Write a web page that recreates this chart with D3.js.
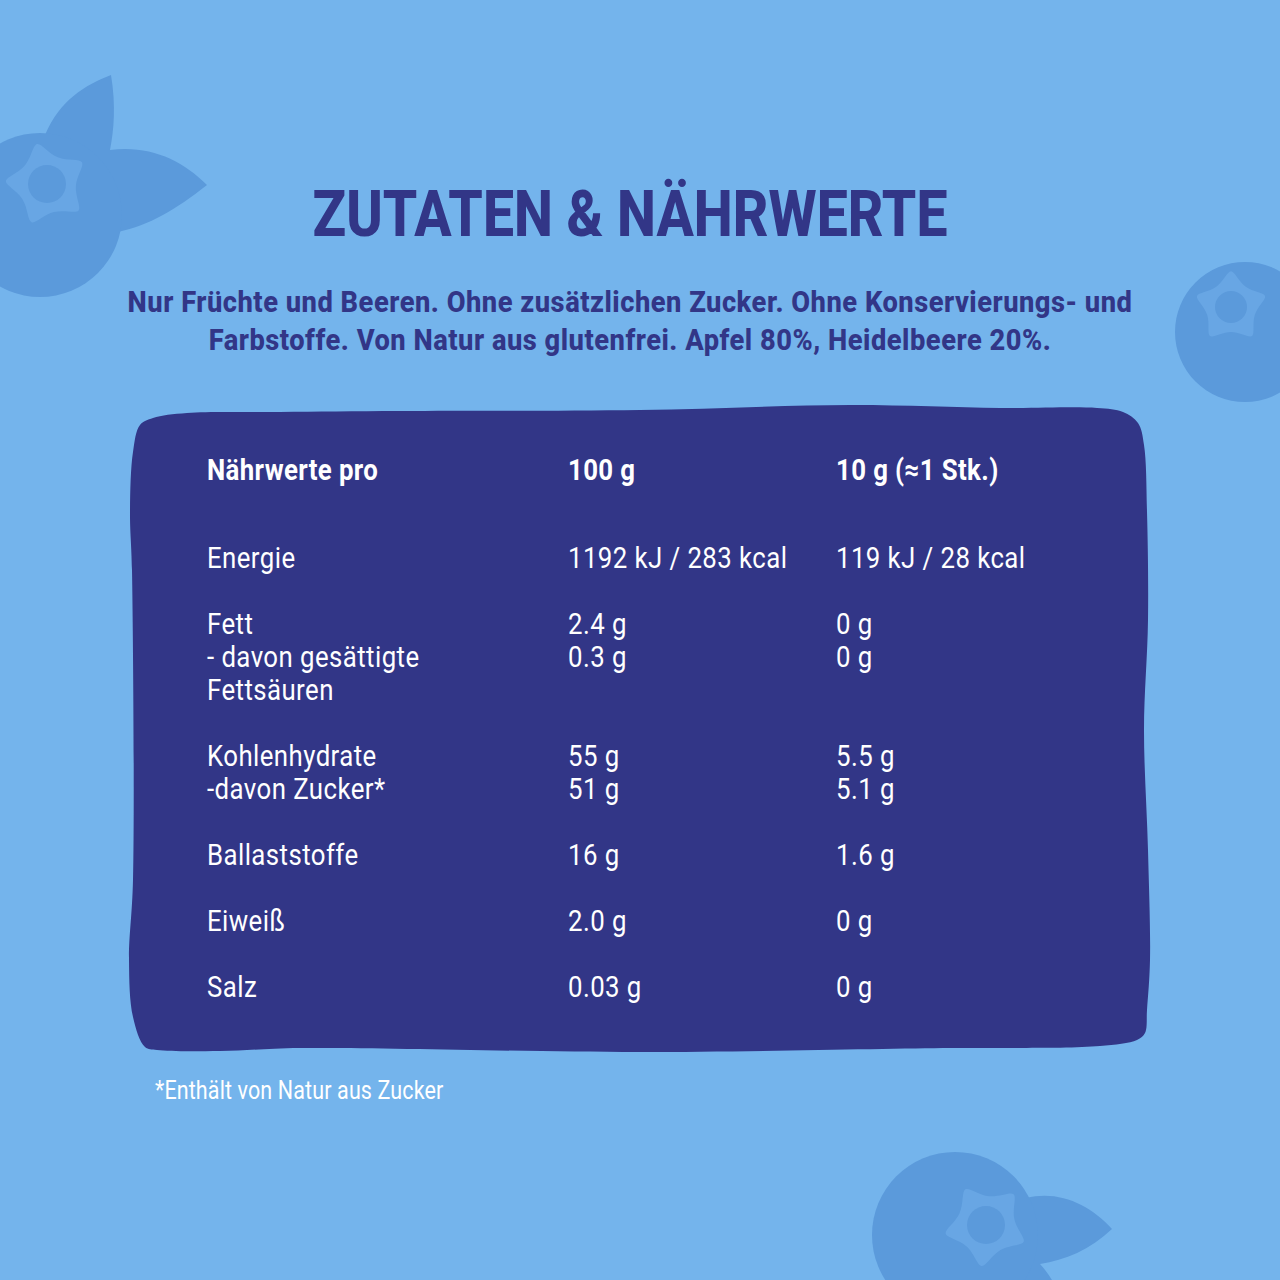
<!DOCTYPE html>
<html>
<head>
<meta charset="utf-8">
<script src="https://cdn.jsdelivr.net/npm/d3@7"></script>
<style>
  html, body { margin: 0; padding: 0; background: #74b4ec; }
  svg { display: block; }
  text { font-family: Roboto, sans-serif; }
</style>
</head>
<body>
<svg id="chart" width="1280" height="1280"></svg>
<script>
const title = "ZUTATEN & NÄHRWERTE";
const introLines = [
  "Nur Früchte und Beeren. Ohne zusätzlichen Zucker. Ohne Konservierungs- und",
  "Farbstoffe. Von Natur aus glutenfrei. Apfel 80%, Heidelbeere 20%."
];
const columnHeads = ["Nährwerte pro", "100 g", "10 g (≈1 Stk.)"];
const nutrients = ["Energie", "Fett", "- davon gesättigte", "Fettsäuren", "Kohlenhydrate", "-davon Zucker*", "Ballaststoffe", "Eiweiß", "Salz"];
const per100g = ["1192 kJ / 283 kcal", "2.4 g", "0.3 g", "", "55 g", "51 g", "16 g", "2.0 g", "0.03 g"];
const per10g = ["119 kJ / 28 kcal", "0 g", "0 g", "", "5.5 g", "5.1 g", "1.6 g", "0 g", "0 g"];
const lineSlots = [0, 2, 3, 4, 6, 7, 9, 11, 13];
const footnote = "*Enthält von Natur aus Zucker";

const colors = { bg: "#74b4ec", panel: "#323687", berry: "#5b9adb", star: "#68a6e4" };

const svg = d3.select("#chart");
svg.append("rect").attr("width", 1280).attr("height", 1280).attr("fill", colors.bg);

// berries in the background
function star(cx, cy, outer, inner, rot) {
  const pts = d3.range(10).map(i => [(i * Math.PI / 5) + rot * Math.PI / 180, i % 2 ? inner : outer]);
  const g = svg.append("g").attr("transform", `translate(${cx},${cy})`);
  g.append("path")
    .attr("d", d3.lineRadial().curve(d3.curveBasisClosed)(pts))
    .attr("fill", colors.star);
  return g;
}

function berry(cx, cy, r) {
  svg.append("circle").attr("cx", cx).attr("cy", cy).attr("r", r).attr("fill", colors.berry);
}

const leaves = [
  "M45,135 C60,100 85,85 111,75 C116,105 114,130 110,150 C150,145 182,160 207,185 C175,210 150,225 118,232 L80,170 Z",
  "M1026,1198 C1060,1190 1090,1205 1112,1229 C1090,1250 1065,1260 1040,1264 C1050,1275 1055,1285 1060,1295 L980,1295 Z"
];
svg.selectAll("path.leaf").data(leaves).join("path").attr("class", "leaf").attr("d", d => d).attr("fill", colors.berry);

berry(40, 215, 82);
berry(1245, 332, 70);
berry(955, 1235, 83);

star(47, 184, 53, 22, -14).append("circle").attr("r", 19).attr("fill", colors.berry);
star(1231, 307, 46, 19, 0).append("circle").attr("r", 16).attr("fill", colors.berry);
star(986, 1225, 53, 22, -30).append("circle").attr("r", 19).attr("fill", colors.berry);

// wobbly panel
const panelOutline = [
  [153, 418], [187, 413], [280, 412], [400, 411], [640, 410], [850, 405], [1000, 408], [1097, 408], [1123, 412], [1138, 423], [1144, 445],
  [1147, 512], [1148, 620], [1144, 730], [1148, 850], [1150, 960], [1147, 1010], [1145, 1033], [1137, 1040], [1100, 1046],
  [1000, 1048], [950, 1048], [640, 1052], [300, 1048], [220, 1051], [157, 1050], [145, 1047], [133, 1017], [129, 960], [133, 880],
  [132, 570], [130, 512], [133, 452], [140, 425]
];
svg.append("path")
  .attr("d", d3.line().curve(d3.curveCatmullRomClosed.alpha(0.5))(panelOutline))
  .attr("fill", colors.panel);

// all the text is Roboto squeezed, the condensed cut is not there
function label(parent, str, x, y, size, weight, fill, sx, spacing, anchor) {
  parent.append("text")
    .attr("transform", `translate(${x},${y}) scale(${sx},1)`)
    .attr("font-size", size)
    .attr("font-weight", weight)
    .attr("letter-spacing", spacing)
    .attr("fill", fill)
    .attr("text-anchor", anchor || "start")
    .text(str);
}

label(svg, title, 630, 236, 65, 800, colors.panel, 0.85, 0, "middle");

const introY = d3.scalePoint().domain(d3.range(introLines.length)).range([312, 350]);
introLines.forEach((t, i) => label(svg, t, 630, introY(i), 30, 800, colors.panel, 0.91, 0.55, "middle"));

// table
const colX = d3.scaleOrdinal().domain([0, 1, 2]).range([207, 568, 836]);
const rowY = d3.scaleLinear().domain([0, 13]).range([568, 997]);
const table = svg.append("g");

columnHeads.forEach((h, i) => label(table, h, colX(i), 480, 30, 700, "#fff", 0.86, 0.45));

[nutrients, per100g, per10g].forEach((col, c) => {
  col.forEach((t, i) => {
    if (t) label(table, t, colX(c), rowY(lineSlots[i]), 30, 400, "#fff", 0.86, 0.5);
  });
});

label(svg, footnote, 155, 1099, 25, 400, "#fff", 0.86, 0.15);
</script>
</body>
</html>
